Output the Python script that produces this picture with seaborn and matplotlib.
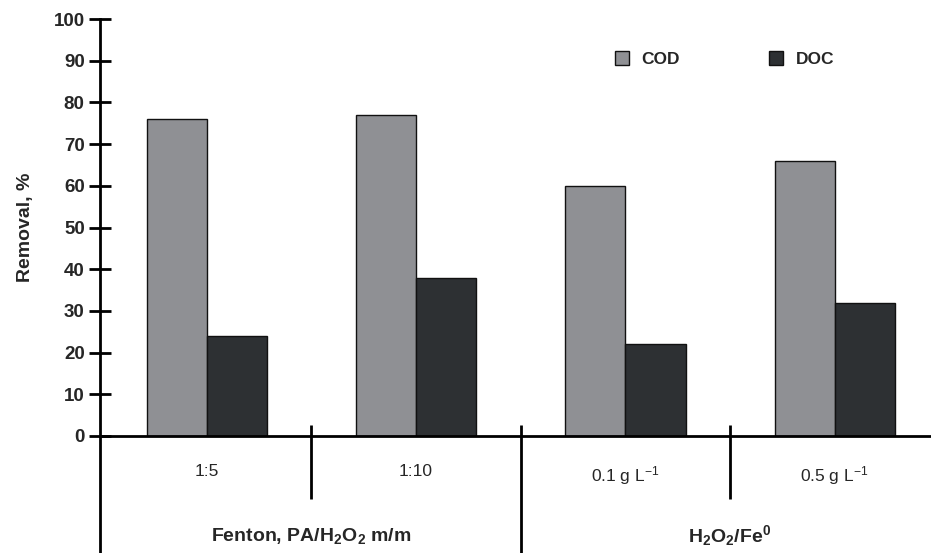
import matplotlib
matplotlib.use("Agg")
import matplotlib.pyplot as plt
import seaborn as sns
import pandas as pd
from matplotlib.patches import Patch

categories = ["1:5", "1:10", "0.1 g L$^{-1}$", "0.5 g L$^{-1}$"]
cod = [76, 77, 60, 66]
doc = [24, 38, 22, 32]
series = ["COD", "DOC"]
groups = ["Fenton, PA/H$_2$O$_2$ m/m", "H$_2$O$_2$/Fe$^0$"]
yticks = [0, 10, 20, 30, 40, 50, 60, 70, 80, 90, 100]

sns.set_theme(style="white")
plt.rcParams["font.family"] = ["Liberation Sans", "DejaVu Sans"]
plt.rcParams["mathtext.default"] = "regular"

df = pd.DataFrame({
    "cat": categories * 2,
    "val": cod + doc,
    "series": ["COD"] * 4 + ["DOC"] * 4,
})

W, H = 931, 553
fig = plt.figure(figsize=(W / 100, H / 100), dpi=100)
x0, y0, y100 = 100, 436, 19
ax = fig.add_axes([x0 / W, (H - y0) / H, (W - x0) / W, (y0 - y100) / H])

colors = {"COD": "#8f9094", "DOC": "#2d3033"}
sns.barplot(data=df, x="cat", y="val", hue="series", order=categories,
            hue_order=series, palette=colors, width=0.575, gap=0,
            edgecolor="#111111", linewidth=1.0, saturation=1, ax=ax,
            legend=False)

ax.set_xlim(-0.51, 3.46)
ax.set_ylim(0, 100)
ax.set_yticks(yticks)
ax.set_yticklabels([str(t) for t in yticks], fontsize=13.5, fontweight="bold")
ax.tick_params(axis="y", direction="inout", length=16, width=2, color="black",
               left=True, pad=3)
ax.tick_params(axis="x", length=0, pad=20)
ax.set_xticks(range(len(categories)))
ax.set_xticklabels(categories, fontsize=12.5)
ax.set_xlabel("")
ax.set_ylabel("Removal, %", fontsize=14, fontweight="bold", labelpad=14)

for s in ["top", "right"]:
    ax.spines[s].set_visible(False)
ax.spines["left"].set_linewidth(2)
ax.spines["bottom"].set_linewidth(2)
ax.spines["left"].set_color("black")
ax.spines["bottom"].set_color("black")

ax.plot([-0.51, -0.51], [0, -28.5], color="black", lw=2, clip_on=False,
        solid_capstyle="butt")
for xd, ybot in [(0.5, -15), (1.5, -28.5), (2.5, -15)]:
    ax.plot([xd, xd], [2.6, ybot], color="black", lw=2, clip_on=False,
            solid_capstyle="butt")

for xc, g in zip([0.5, 2.5], groups):
    ax.text(xc, -23.9, g, ha="center", va="center", fontsize=14,
            fontweight="bold", clip_on=False)

handles = [Patch(facecolor=colors[s], edgecolor="#111111", linewidth=1.0)
           for s in series]
leg = ax.legend(handles, series, loc="center left",
                bbox_to_anchor=((606 - x0) / (W - x0), (y0 - 59) / (y0 - y100)),
                ncol=2, frameon=False, borderpad=0, handlelength=0.85,
                handleheight=0.85, handletextpad=0.7, columnspacing=5.1,
                prop={"weight": "bold", "size": 12.5})

fig.savefig("out.png", dpi=100)
